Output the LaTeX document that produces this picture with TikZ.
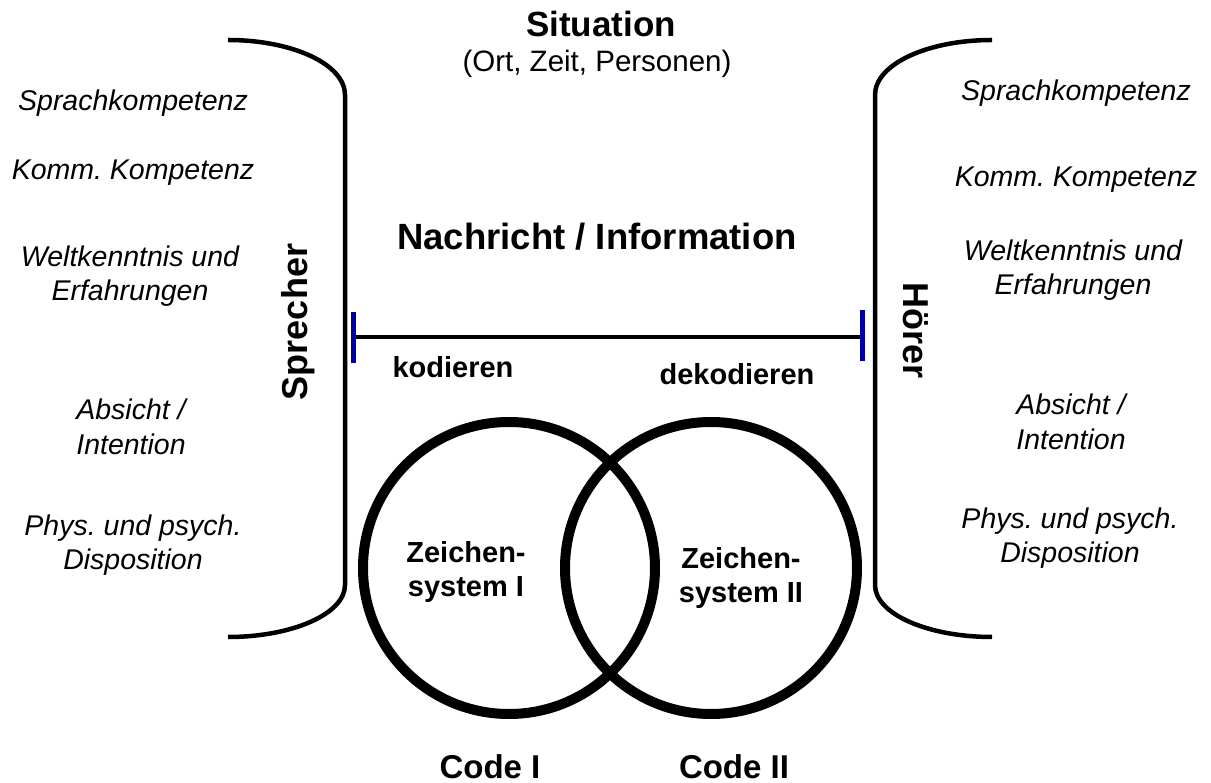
\documentclass[tikz,border=0pt]{standalone}
\usepackage{fontspec}
\setmainfont{Liberation Sans}
\frenchspacing
\definecolor{tickblue}{RGB}{0,0,160}
\begin{document}
\begin{tikzpicture}[x=1pt, y=-1pt,
  brace/.style={line width=4.5pt, line cap=butt},
  msgline/.style={line width=4.5pt},
  endtick/.style={line width=5pt, draw=tickblue},
  ring/.style={circle, draw, line width=10pt, minimum size=292pt, inner sep=0pt},
  attr/.style={font=\fontsize{28.5}{34.5}\selectfont\itshape, align=center, inner sep=0pt},
  title/.style={font=\fontsize{35}{42}\selectfont\bfseries, inner sep=0pt, anchor=base},
  role/.style={font=\fontsize{36}{42}\selectfont\bfseries, inner sep=0pt},
  verb/.style={font=\fontsize{29}{34}\selectfont\bfseries, inner sep=0pt, anchor=base},
  sys/.style={font=\fontsize{29}{34}\selectfont\bfseries, align=center, inner sep=0pt},
  code/.style={font=\fontsize{33}{40}\selectfont\bfseries, inner sep=0pt, anchor=base}]
\useasboundingbox (0,0) rectangle (1211,783);

% situation heading
\node[title] (sit) at (601,37) {Situation};
\node[font=\fontsize{29.5}{35}\selectfont, inner sep=0pt, anchor=base] (sitsub) at (597,72) {(Ort, Zeit, Personen)};

% speaker bracket
\draw[brace] (228,40) .. controls (292,40) and (345,64) .. (345,95)
  -- (345,585) .. controls (345,614) and (292,637) .. (228,637);
% listener bracket
\draw[brace] (992,40) .. controls (928,40) and (875,64) .. (875,95)
  -- (875,585) .. controls (875,614) and (928,637) .. (992,637);

\node[role, rotate=90] (spk) at (298,322) {Sprecher};
\node[role, rotate=-90] (hrr) at (916,331) {Hörer};

% speaker attributes
\node[attr, anchor=base] (l1) at (133,111) {Sprachkompetenz};
\node[attr, anchor=base] (l2) at (133,180) {Komm. Kompetenz};
\node[attr] (l3) at (130,276) {Weltkenntnis und\\Erfahrungen};
\node[attr] (l4) at (131,427) {Absicht /\\Intention};
\node[attr] (l5) at (133,545) {Phys. und psych.\\Disposition};

% listener attributes
\node[attr, anchor=base] (r1) at (1076,101) {Sprachkompetenz};
\node[attr, anchor=base] (r2) at (1076,187) {Komm. Kompetenz};
\node[attr] (r3) at (1073,270) {Weltkenntnis und\\Erfahrungen};
\node[attr] (r4) at (1071,422) {Absicht /\\Intention};
\node[attr] (r5) at (1070,538) {Phys. und psych.\\Disposition};

% message
\node[title, font=\fontsize{36.5}{42}\selectfont\bfseries] (msg) at (597,250) {Nachricht / Information};
\coordinate (enc) at (355,337);
\coordinate (dec) at (861,337);
\draw[msgline] (enc) -- (dec);
\draw[endtick] (353,312) -- (353,363);
\draw[endtick] (862,310) -- (862,361);

\node[verb] (kod) at (453,378) {kodieren};
\node[verb] (dek) at (737,385) {dekodieren};

% sign systems
\node[ring] (c1) at (509,568) {};
\node[ring] (c2) at (711,568) {};
\node[sys] (z1) at (466,572) {Zeichen-\\system I};
\node[sys] (z2) at (741,578) {Zeichen-\\system II};

\node[code] (k1) at (490,778) {Code I};
\node[code] (k2) at (734,778) {Code II};
\end{tikzpicture}
\end{document}
